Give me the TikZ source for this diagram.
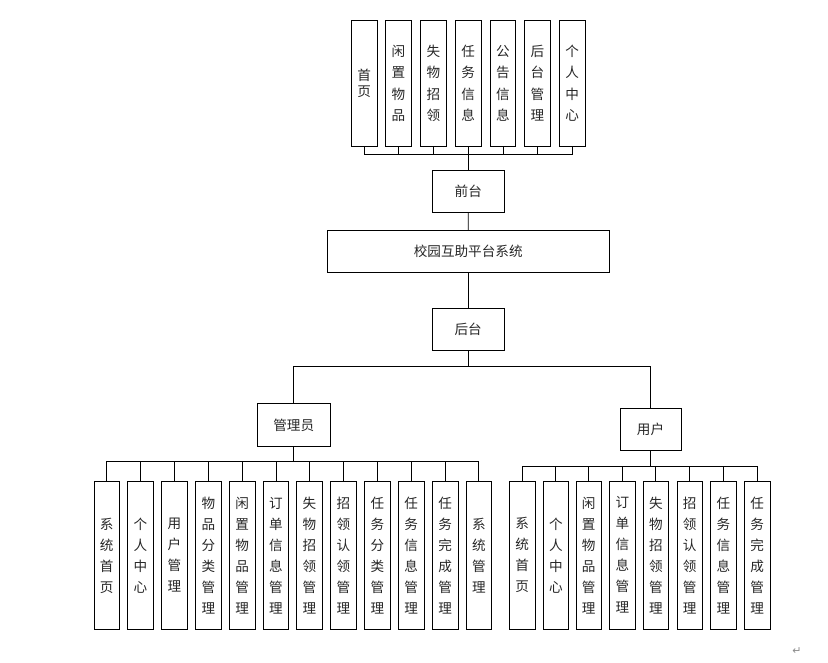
\documentclass[tikz,border=0pt]{standalone}
\usepackage{fontspec}
\newfontfamily\cjk{Noto Sans CJK SC}
\newfontfamily\djv{DejaVu Sans}
\begin{document}
\begin{tikzpicture}[x=1pt,y=-1pt,
  base/.style={draw=black, line width=0.8pt, inner sep=0pt, text=black!85, align=center,
    font=\cjk\fontsize{13.6}{21}\selectfont},
  tbox/.style={base, minimum width=25.5pt, minimum height=126.7pt, font=\cjk\fontsize{13.6}{21.5}\selectfont},
  vbox/.style={base, minimum width=25.5pt, minimum height=147.5pt},
  hbx/.style={base, minimum height=42.5pt},
  ln/.style={line width=0.8pt, black}]
\useasboundingbox (0,0) rectangle (828,662);

% top row
\node[tbox, font=\cjk\fontsize{13.6}{16}\selectfont] (t1) at (364.2,83.3) {首\\页};
\node[tbox] (t2) at (398.5,83.3) {闲\\置\\物\\品};
\node[tbox] (t3) at (433.3,83.3) {失\\物\\招\\领};
\node[tbox] (t4) at (468.2,83.3) {任\\务\\信\\息};
\node[tbox] (t5) at (502.9,83.3) {公\\告\\信\\息};
\node[tbox] (t6) at (537.5,83.3) {后\\台\\管\\理};
\node[tbox] (t7) at (572.2,83.3) {个\\人\\中\\心};

\node[hbx, minimum width=72pt] (qt) at (468.3,191.2) {前台};
\node[hbx, minimum width=281.7pt, minimum height=42pt] (sys) at (468.2,251.7) {校园互助平台系统};
\node[hbx, minimum width=72.3pt] (ht) at (468.2,329.3) {后台};
\node[hbx, minimum width=72.7pt] (adm) at (293.7,425) {管理员};
\node[hbx, minimum width=61pt, minimum height=42pt] (usr) at (650.5,429.3) {用户};

\coordinate (tb) at (0,154.3);
\coordinate (hb) at (0,366);
\coordinate (ab) at (0,461.7);
\coordinate (ub) at (0,466);

% admin children
\node[vbox] (a1) at (106.7,555.5) {系\\统\\首\\页};
\node[vbox] (a2) at (140.5,555.5) {个\\人\\中\\心};
\node[vbox] (a3) at (174.5,555.5) {用\\户\\管\\理};
\node[vbox] (a4) at (208.3,555.5) {物\\品\\分\\类\\管\\理};
\node[vbox] (a5) at (242.2,555.5) {闲\\置\\物\\品\\管\\理};
\node[vbox] (a6) at (276.0,555.5) {订\\单\\信\\息\\管\\理};
\node[vbox] (a7) at (309.5,555.5) {失\\物\\招\\领\\管\\理};
\node[vbox] (a8) at (343.5,555.5) {招\\领\\认\\领\\管\\理};
\node[vbox] (a9) at (377.3,555.5) {任\\务\\分\\类\\管\\理};
\node[vbox] (a10) at (411.2,555.5) {任\\务\\信\\息\\管\\理};
\node[vbox] (a11) at (445.2,555.5) {任\\务\\完\\成\\管\\理};
\node[vbox] (a12) at (478.8,555.5) {系\\统\\管\\理};

% user children
\node[vbox] (u1) at (522.2,555.2) {系\\统\\首\\页};
\node[vbox] (u2) at (555.8,555.2) {个\\人\\中\\心};
\node[vbox] (u3) at (588.7,555.2) {闲\\置\\物\\品\\管\\理};
\node[vbox] (u4) at (622.3,555.2) {订\\单\\信\\息\\管\\理};
\node[vbox] (u5) at (655.8,555.2) {失\\物\\招\\领\\管\\理};
\node[vbox] (u6) at (689.7,555.2) {招\\领\\认\\领\\管\\理};
\node[vbox] (u7) at (723.5,555.2) {任\\务\\信\\息\\管\\理};
\node[vbox] (u8) at (757.2,555.2) {任\\务\\完\\成\\管\\理};

% connectors top
\foreach \i in {1,...,7} \draw[ln] (qt.north) -- (qt.north |- tb) -| (t\i.south);
\draw[ln] (qt.south) -- (sys.north);
\draw[ln] (sys.south) -- (ht.north);
\draw[ln] (ht.south) -- (ht.south |- hb) -| (adm.north);
\draw[ln] (ht.south) -- (ht.south |- hb) -| (usr.north);
\foreach \i in {1,...,12} \draw[ln] (adm.south) -- (adm.south |- ab) -| (a\i.north);
\foreach \i in {1,...,8} \draw[ln] (usr.south) -- (usr.south |- ub) -| (u\i.north);

\node[text=black!45, font=\djv\fontsize{11}{13}\selectfont, inner sep=0pt] (ret) at (797,651) {↵};
\end{tikzpicture}
\end{document}
